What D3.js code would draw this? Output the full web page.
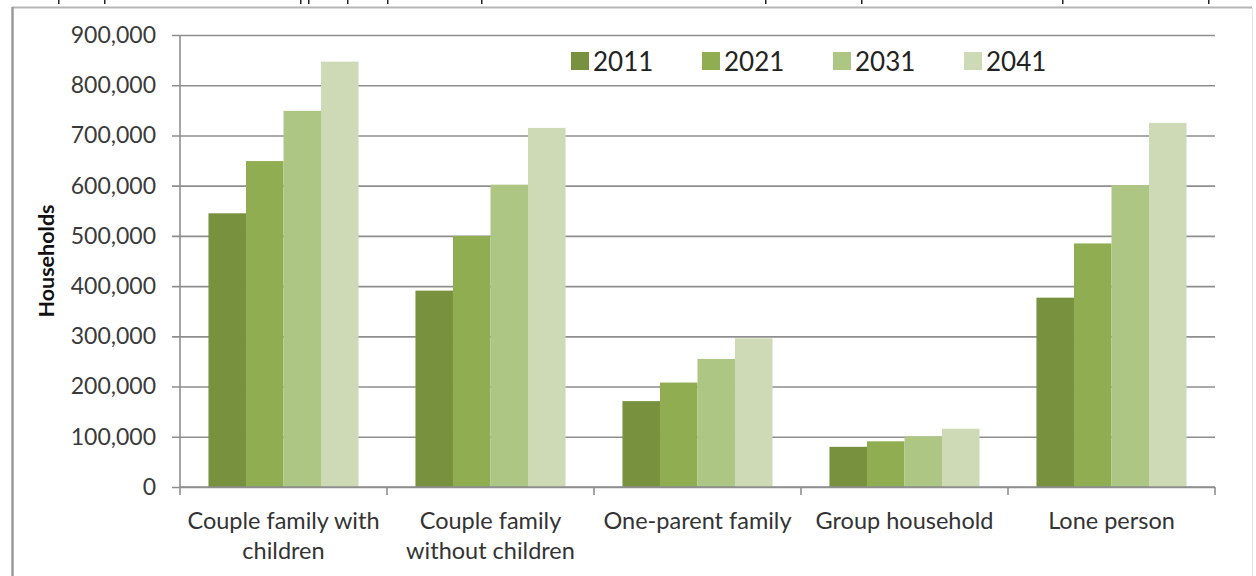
<!DOCTYPE html>
<html>
<head>
<meta charset="utf-8">
<script src="https://cdn.jsdelivr.net/npm/d3@7"></script>
<style>
  html, body { margin: 0; padding: 0; background: #fff; }
  svg { display: block; }
  text { font-family: Lato, "Open Sans", sans-serif; }
</style>
</head>
<body>
<svg id="chart" width="1256" height="576"></svg>
<script>
// Household types (each label split onto its display lines)
const categories = [
  ["Couple family with", "children"],
  ["Couple family", "without children"],
  ["One-parent family"],
  ["Group household"],
  ["Lone person"]
];
const years = ["2011", "2021", "2031", "2041"];

// Households per type, one array per projection year
const values2011 = [545000, 391000, 171000, 80000, 377000];
const values2021 = [649000, 500000, 208000, 91000, 485000];
const values2031 = [749000, 602000, 255000, 101000, 601000];
const values2041 = [847000, 715000, 296000, 116000, 725000];

const yTicks = [0, 100000, 200000, 300000, 400000, 500000, 600000, 700000, 800000, 900000];
const colors = ["#78913f", "#91ad52", "#aec684", "#cddab5"];

// Descender fragments of the heading line cut off above the frame
const headingStubs = [58, 104, 300, 308, 347, 387, 481, 765, 861, 1062, 1208];

const series = [values2011, values2021, values2031, values2041];
const rows = categories.map((c, i) => ({
  key: i,
  label: c,
  vals: years.map((y, j) => ({ year: y, value: series[j][i] }))
}));

const svg = d3.select("#chart");

// Frame
svg.append("line").attr("x1", 12).attr("x2", 1252).attr("y1", 7.5).attr("y2", 7.5)
  .attr("stroke", "#b5b5b5").attr("stroke-width", 2);
svg.append("line").attr("x1", 12.5).attr("x2", 12.5).attr("y1", 7).attr("y2", 576)
  .attr("stroke", "#9a9a9a").attr("stroke-width", 2.5);
svg.append("line").attr("x1", 1252.5).attr("x2", 1252.5).attr("y1", 8).attr("y2", 576)
  .attr("stroke", "#e6e6e6").attr("stroke-width", 1);
svg.append("g").selectAll("rect").data(headingStubs).join("rect")
  .attr("x", d => d).attr("y", 0).attr("width", 1.5).attr("height", 4).attr("fill", "#222");

const plot = { left: 180, right: 1215, top: 35, bottom: 487 };

const x0 = d3.scaleBand().domain(rows.map(r => r.key))
  .range([plot.left, plot.right]).paddingInner(0).paddingOuter(0);
const groupW = x0.bandwidth() * 0.725;
const x1 = d3.scaleBand().domain(years)
  .range([(x0.bandwidth() - groupW) / 2, (x0.bandwidth() + groupW) / 2]);
const y = d3.scaleLinear().domain([0, 900000]).range([plot.bottom, plot.top]);

// Gridlines
const gy = svg.append("g").attr("transform", `translate(${plot.right},0)`);
gy.call(d3.axisLeft(y).tickValues(yTicks).tickSize(plot.right - plot.left + 8).tickFormat(""));
gy.select(".domain").remove();
gy.selectAll(".tick line").attr("stroke", "#8e8e8e").attr("stroke-width", 1.6);

// Y tick labels
const gl = svg.append("g").attr("transform", `translate(${plot.left - 8},0)`);
gl.call(d3.axisLeft(y).tickValues(yTicks).tickSize(0).tickPadding(16).tickFormat(d3.format(",")));
gl.select(".domain").remove();
gl.selectAll(".tick text").attr("font-size", 23).attr("fill", "#3a3a3a");

svg.append("line").attr("x1", plot.left).attr("x2", plot.left)
  .attr("y1", plot.top).attr("y2", plot.bottom)
  .attr("stroke", "#8e8e8e").attr("stroke-width", 1.6);

// Bars
const groups = svg.append("g").selectAll("g").data(rows).join("g")
  .attr("transform", d => `translate(${x0(d.key)},0)`);
groups.selectAll("rect").data(d => d.vals).join("rect")
  .attr("x", d => x1(d.year))
  .attr("width", x1.bandwidth())
  .attr("y", d => y(d.value))
  .attr("height", d => y(0) - y(d.value))
  .attr("fill", (d, i) => colors[i]);

// x axis baseline and category ticks
const gx = svg.append("g").attr("transform", `translate(0,${plot.bottom})`);
gx.append("line").attr("x1", plot.left).attr("x2", plot.right)
  .attr("stroke", "#8e8e8e").attr("stroke-width", 1.6);
const boundaries = rows.map(r => x0(r.key)).concat([plot.right]);
gx.selectAll("line.tk").data(boundaries).join("line").attr("class", "tk")
  .attr("x1", d => d).attr("x2", d => d).attr("y1", 0).attr("y2", 8)
  .attr("stroke", "#8e8e8e").attr("stroke-width", 1.6);

// Category labels
const lbl = gx.selectAll("text.cat").data(rows).join("text").attr("class", "cat")
  .attr("x", d => x0(d.key) + x0.bandwidth() / 2)
  .attr("y", 42)
  .attr("text-anchor", "middle")
  .attr("font-size", 23.5)
  .attr("fill", "#333");
lbl.selectAll("tspan").data(d => d.label).join("tspan")
  .attr("x", function () { return d3.select(this.parentNode).attr("x"); })
  .attr("dy", (d, i) => i === 0 ? 0 : 30)
  .text(d => d);

// Y axis title
svg.append("text")
  .attr("transform", `translate(54,${(plot.top + plot.bottom) / 2}) rotate(-90)`)
  .attr("text-anchor", "middle")
  .attr("font-size", 21.5)
  .attr("font-weight", "bold")
  .attr("fill", "#111")
  .text("Households");

// Legend
const legend = svg.append("g").attr("transform", "translate(571,61)");
const items = legend.selectAll("g").data(years).join("g")
  .attr("transform", (d, i) => `translate(${i * 131},0)`);
items.append("rect").attr("x", 0).attr("y", -9).attr("width", 18).attr("height", 18)
  .attr("fill", (d, i) => colors[i]);
items.append("text").attr("x", 22).attr("y", 9.5)
  .attr("font-size", 26).attr("fill", "#222").text(d => d);
</script>
</body>
</html>
